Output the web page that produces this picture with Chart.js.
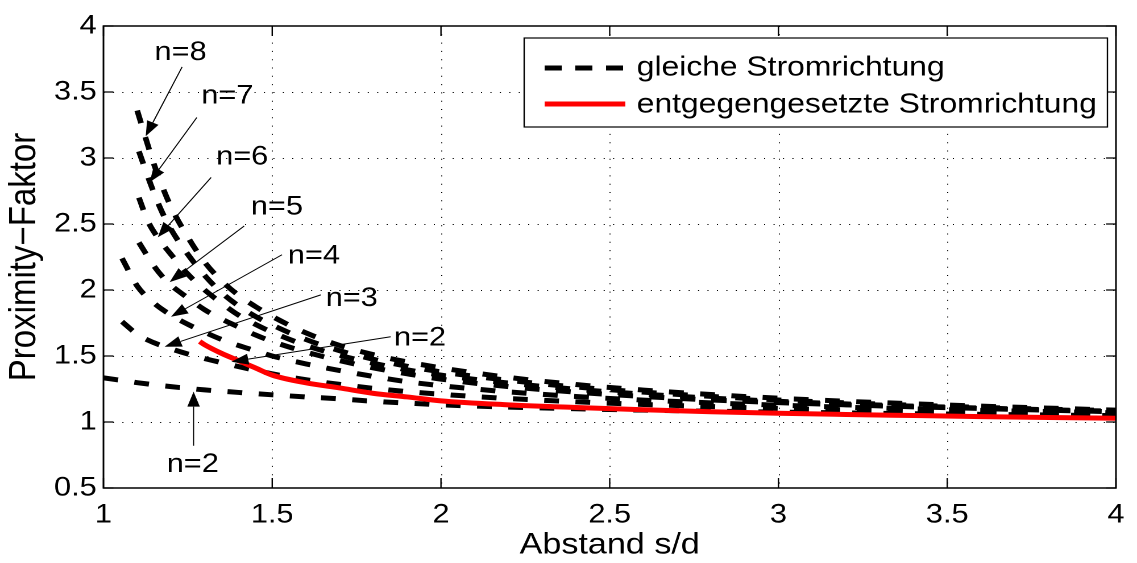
<!DOCTYPE html>
<html>
<head>
<meta charset="utf-8">
<script src="https://cdn.jsdelivr.net/npm/chart.js@4/dist/chart.umd.min.js"></script>
<style>
  html, body { margin: 0; padding: 0; background: #fff; overflow: hidden; }
  #stage { width: 1000px; height: 563px; transform: scaleX(1.137); transform-origin: 0 0; }
</style>
</head>
<body>
<div id="stage"><canvas id="pf" width="1000" height="563"></canvas></div>
<script>
// Proximity factor versus conductor spacing s/d, n parallel conductors
const xTicks = [1, 1.5, 2, 2.5, 3, 3.5, 4];
const yTicks = [0.5, 1, 1.5, 2, 2.5, 3, 3.5, 4];

// same current direction (dashed), one series per conductor count n
const sN2 = [1, 1.1, 1.2, 1.3, 1.4, 1.5, 1.6, 1.7, 1.8, 1.9, 2.0, 2.2, 2.4, 2.6, 2.8, 3.0, 3.2, 3.4, 3.6, 3.8, 4.0];
const pN2 = [1.335, 1.298, 1.268, 1.243, 1.224, 1.206, 1.19, 1.175, 1.157, 1.143, 1.13, 1.113, 1.1, 1.09, 1.082, 1.075, 1.069, 1.063, 1.058, 1.053, 1.048];

const sN3 = [1.055, 1.1, 1.15, 1.2, 1.25, 1.3, 1.35, 1.4, 1.5, 1.6, 1.7, 1.8, 1.9, 2.0, 2.2, 2.4, 2.6, 2.8, 3.0, 3.2, 3.4, 3.6, 3.8, 4.0];
const pN3 = [1.76, 1.665, 1.6, 1.555, 1.515, 1.48, 1.45, 1.42, 1.365, 1.32, 1.285, 1.255, 1.23, 1.21, 1.178, 1.153, 1.133, 1.117, 1.103, 1.092, 1.082, 1.074, 1.067, 1.06];

const sN4 = [1.055, 1.1, 1.15, 1.2, 1.25, 1.3, 1.35, 1.4, 1.45, 1.5, 1.6, 1.7, 1.8, 1.9, 2.0, 2.2, 2.4, 2.6, 2.8, 3.0, 3.2, 3.4, 3.6, 3.8, 4.0];
const pN4 = [2.24, 2.03, 1.9, 1.81, 1.74, 1.68, 1.625, 1.58, 1.54, 1.5, 1.44, 1.39, 1.345, 1.305, 1.275, 1.228, 1.193, 1.166, 1.145, 1.127, 1.112, 1.099, 1.088, 1.079, 1.07];

const sN5 = [1.105, 1.15, 1.19, 1.25, 1.3, 1.35, 1.4, 1.45, 1.5, 1.6, 1.7, 1.8, 1.9, 2.0, 2.2, 2.4, 2.6, 2.8, 3.0, 3.2, 3.4, 3.6, 3.8, 4.0];
const pN5 = [2.36, 2.18, 2.06, 1.94, 1.85, 1.78, 1.72, 1.66, 1.61, 1.53, 1.465, 1.41, 1.365, 1.325, 1.268, 1.226, 1.193, 1.167, 1.147, 1.13, 1.115, 1.102, 1.089, 1.077];

const sN6 = [1.105, 1.13, 1.16, 1.2, 1.25, 1.3, 1.35, 1.4, 1.45, 1.5, 1.6, 1.7, 1.8, 1.9, 2.0, 2.2, 2.4, 2.6, 2.8, 3.0, 3.2, 3.4, 3.6, 3.8, 4.0];
const pN6 = [2.7, 2.53, 2.4, 2.27, 2.12, 2.0, 1.9, 1.81, 1.74, 1.68, 1.58, 1.505, 1.445, 1.395, 1.355, 1.295, 1.248, 1.211, 1.181, 1.157, 1.137, 1.12, 1.106, 1.093, 1.082];

const sN7 = [1.105, 1.14, 1.17, 1.2, 1.25, 1.3, 1.35, 1.4, 1.45, 1.5, 1.6, 1.7, 1.8, 1.9, 2.0, 2.2, 2.4, 2.6, 2.8, 3.0, 3.2, 3.4, 3.6, 3.8, 4.0];
const pN7 = [3.05, 2.8, 2.61, 2.46, 2.27, 2.11, 1.98, 1.88, 1.8, 1.735, 1.625, 1.54, 1.475, 1.422, 1.38, 1.316, 1.265, 1.226, 1.194, 1.167, 1.145, 1.127, 1.111, 1.097, 1.086];

const sN8 = [1.1, 1.125, 1.15, 1.175, 1.2, 1.25, 1.3, 1.35, 1.4, 1.45, 1.5, 1.6, 1.7, 1.8, 1.9, 2.0, 2.2, 2.4, 2.6, 2.8, 3.0, 3.2, 3.4, 3.6, 3.8, 4.0];
const pN8 = [3.36, 3.15, 2.95, 2.78, 2.63, 2.4, 2.21, 2.07, 1.96, 1.875, 1.8, 1.675, 1.58, 1.51, 1.455, 1.41, 1.338, 1.284, 1.242, 1.208, 1.18, 1.157, 1.138, 1.12, 1.105, 1.09];

// opposite current direction (solid red)
const sOpp = [1.285, 1.3, 1.35, 1.4, 1.45, 1.5, 1.6, 1.7, 1.8, 1.9, 2.0, 2.2, 2.4, 2.6, 2.8, 3.0, 3.2, 3.4, 3.6, 3.8, 4.0];
const pOpp = [1.61, 1.585, 1.52, 1.465, 1.41, 1.355, 1.297, 1.258, 1.217, 1.19, 1.16, 1.13, 1.11, 1.093, 1.078, 1.066, 1.057, 1.049, 1.041, 1.034, 1.028];

const legendLabels = ['gleiche Stromrichtung', 'entgegengesetzte Stromrichtung'];

// curve labels with arrows (text centre, arrow tail, arrow tip in axis units)
const notes = [
  { text: 'n=8', at: [1.2285, 3.80], from: [1.233, 3.69], to: [1.125, 3.165] },
  { text: 'n=7', at: [1.367, 3.468], from: [1.2766, 3.307], to: [1.137, 2.817] },
  { text: 'n=6', at: [1.411, 3.007], from: [1.319, 2.853], to: [1.161, 2.40] },
  { text: 'n=5', at: [1.514, 2.629], from: [1.417, 2.485], to: [1.196, 2.06] },
  { text: 'n=4', at: [1.6235, 2.259], from: [1.529, 2.267], to: [1.2, 1.797] },
  { text: 'n=3', at: [1.7356, 1.936], from: [1.644, 1.963], to: [1.181, 1.57] },
  { text: 'n=2', at: [1.938, 1.635], from: [1.851, 1.646], to: [1.379, 1.456] },
  { text: 'n=2', at: [1.2647, 0.677], from: [1.267, 0.82], to: [1.267, 1.23] }
];

const FONT = '"Liberation Sans", Arial, Helvetica, sans-serif';
const pts = (xs, ys) => xs.map((v, i) => ({ x: v, y: ys[i] }));
const tickText = v => String(Math.round(v * 10) / 10);

const dashed = (label, xs, ys) => ({
  label, data: pts(xs, ys),
  borderColor: '#000', borderWidth: 5, borderDash: [13, 14.5], borderCapStyle: 'butt',
  pointRadius: 0, showLine: true, cubicInterpolationMode: 'monotone', fill: false
});

const datasets = [
  {
    label: legendLabels[1], data: pts(sOpp, pOpp),
    borderColor: '#ff0000', borderWidth: 5, borderCapStyle: 'butt', borderJoinStyle: 'round',
    pointRadius: 0, showLine: true, cubicInterpolationMode: 'monotone', fill: false
  },
  dashed('n=2', sN2, pN2),
  dashed('n=3', sN3, pN3),
  dashed('n=4', sN4, pN4),
  dashed('n=5', sN5, pN5),
  dashed('n=6', sN6, pN6),
  dashed('n=7', sN7, pN7),
  dashed('n=8', sN8, pN8)
];

const frame = {
  id: 'frame',
  beforeDatasetsDraw(chart) {
    const { ctx, chartArea: a, scales: { x, y } } = chart;
    ctx.save();
    ctx.strokeStyle = '#000';
    ctx.lineWidth = 1;
    ctx.setLineDash([1, 7.3]);
    xTicks.slice(1, -1).forEach(v => {
      const px = Math.round(x.getPixelForValue(v)) + 0.5;
      ctx.beginPath(); ctx.moveTo(px, a.top); ctx.lineTo(px, a.bottom); ctx.stroke();
    });
    yTicks.slice(1, -1).forEach(v => {
      const py = Math.round(y.getPixelForValue(v)) + 0.5;
      ctx.beginPath(); ctx.moveTo(a.left, py); ctx.lineTo(a.right, py); ctx.stroke();
    });
    ctx.restore();
  },
  afterDatasetsDraw(chart) {
    const { ctx, chartArea: a, scales: { x, y } } = chart;
    ctx.save();
    ctx.strokeStyle = '#000';
    ctx.lineWidth = 1.5;
    ctx.setLineDash([]);
    ctx.strokeRect(a.left, a.top, a.right - a.left, a.bottom - a.top);
    ctx.lineWidth = 1.2;
    xTicks.forEach(v => {
      const px = x.getPixelForValue(v);
      ctx.beginPath();
      ctx.moveTo(px, a.bottom); ctx.lineTo(px, a.bottom - 10);
      ctx.moveTo(px, a.top); ctx.lineTo(px, a.top + 10);
      ctx.stroke();
    });
    yTicks.forEach(v => {
      const py = y.getPixelForValue(v);
      ctx.beginPath();
      ctx.moveTo(a.left, py); ctx.lineTo(a.left + 8.8, py);
      ctx.moveTo(a.right, py); ctx.lineTo(a.right - 8.8, py);
      ctx.stroke();
    });

    // curve labels and arrows
    ctx.fillStyle = '#000';
    ctx.font = '27px ' + FONT;
    ctx.textAlign = 'center';
    ctx.textBaseline = 'middle';
    notes.forEach(n => {
      const tx = x.getPixelForValue(n.at[0]), ty = y.getPixelForValue(n.at[1]);
      ctx.fillText(n.text, tx, ty);
      const x0 = x.getPixelForValue(n.from[0]), y0 = y.getPixelForValue(n.from[1]);
      const x1 = x.getPixelForValue(n.to[0]), y1 = y.getPixelForValue(n.to[1]);
      const ang = Math.atan2(y1 - y0, x1 - x0);
      const L = 15, W = 5.5;
      const bx = x1 - L * Math.cos(ang), by = y1 - L * Math.sin(ang);
      ctx.lineWidth = 1;
      ctx.beginPath(); ctx.moveTo(x0, y0); ctx.lineTo(bx, by); ctx.stroke();
      ctx.beginPath();
      ctx.moveTo(x1, y1);
      ctx.lineTo(bx + W * Math.sin(ang), by - W * Math.cos(ang));
      ctx.lineTo(bx - W * Math.sin(ang), by + W * Math.cos(ang));
      ctx.closePath(); ctx.fill();
    });

    // legend box
    const lx = 461, ly = 38, lw = 513, lh = 89;
    ctx.fillStyle = '#fff';
    ctx.fillRect(lx, ly, lw, lh);
    ctx.lineWidth = 1.2;
    ctx.strokeStyle = '#000';
    ctx.strokeRect(lx, ly, lw, lh);
    ctx.lineCap = 'butt';
    ctx.lineWidth = 5;
    ctx.setLineDash([15, 12]);
    ctx.beginPath(); ctx.moveTo(479, 68); ctx.lineTo(550, 68); ctx.stroke();
    ctx.setLineDash([]);
    ctx.strokeStyle = '#ff0000';
    ctx.lineWidth = 5;
    ctx.beginPath(); ctx.moveTo(479, 104); ctx.lineTo(550, 104); ctx.stroke();
    ctx.fillStyle = '#000';
    ctx.textAlign = 'left';
    ctx.font = '28px ' + FONT;
    ctx.fillText(legendLabels[0], 560, 68);
    ctx.fillText(legendLabels[1], 560, 105);

    // axis titles
    ctx.textAlign = 'center';
    ctx.font = '30px ' + FONT;
    ctx.fillText('Abstand s/d', (a.left + a.right) / 2, 545);
    ctx.save();
    ctx.translate(22, (a.top + a.bottom) / 2);
    ctx.rotate(-Math.PI / 2);
    ctx.font = '33px ' + FONT;
    ctx.fillText('Proximity\u2212Faktor', 0, 0);
    ctx.restore();
    ctx.restore();
  }
};

new Chart(document.getElementById('pf'), {
  type: 'scatter',
  data: { datasets },
  options: {
    responsive: false,
    animation: false,
    devicePixelRatio: 2,
    layout: { padding: { left: 0, top: 26, right: 15, bottom: 0 } },
    plugins: { legend: { display: false }, tooltip: { enabled: false } },
    scales: {
      x: {
        type: 'linear', min: 1, max: 4,
        afterFit: s => { s.height = 75; },
        afterBuildTicks: s => { s.ticks = xTicks.map(v => ({ value: v })); },
        grid: { display: false, drawTicks: false },
        border: { display: false },
        ticks: { color: '#000', font: { family: FONT, size: 27 }, padding: 11, maxRotation: 0, callback: tickText }
      },
      y: {
        type: 'linear', min: 0.5, max: 4,
        afterFit: s => { s.width = 91; },
        afterBuildTicks: s => { s.ticks = yTicks.map(v => ({ value: v })); },
        grid: { display: false, drawTicks: false },
        border: { display: false },
        ticks: { color: '#000', font: { family: FONT, size: 27 }, padding: 6, callback: tickText }
      }
    }
  },
  plugins: [frame]
});
</script>
</body>
</html>
